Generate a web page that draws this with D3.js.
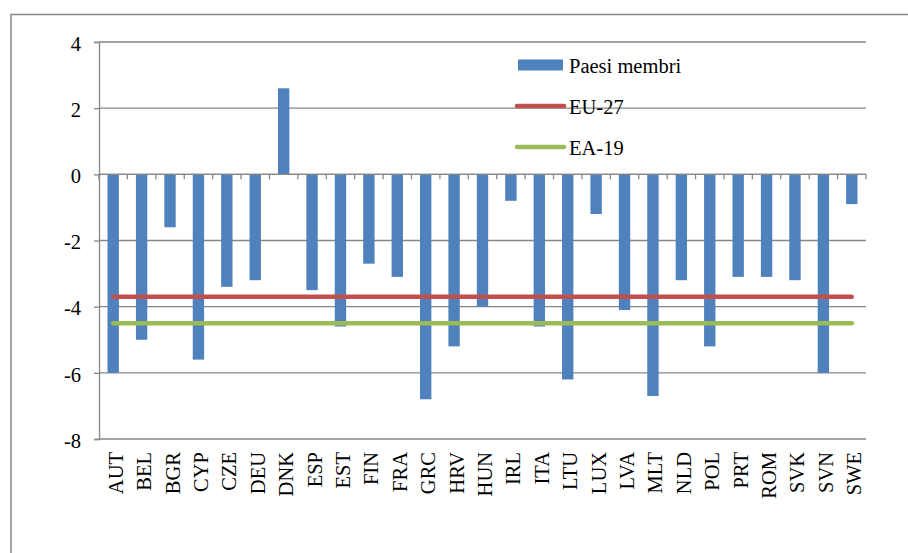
<!DOCTYPE html>
<html>
<head>
<meta charset="utf-8">
<script src="https://cdn.jsdelivr.net/npm/d3@7"></script>
<style>
  html, body { margin: 0; padding: 0; background: #fff; }
  svg { display: block; }
</style>
</head>
<body>
<svg id="chart" width="908" height="553"></svg>
<script>
const countries = ['AUT','BEL','BGR','CYP','CZE','DEU','DNK','ESP','EST','FIN','FRA','GRC','HRV','HUN',
  'IRL','ITA','LTU','LUX','LVA','MLT','NLD','POL','PRT','ROM','SVK','SVN','SWE'];
const memberValues = [-6.0,-5.0,-1.6,-5.6,-3.4,-3.2,2.6,-3.5,-4.6,-2.7,-3.1,-6.8,-5.2,-4.0,
  -0.8,-4.6,-6.2,-1.2,-4.1,-6.7,-3.2,-5.2,-3.1,-3.1,-3.2,-6.0,-0.9];
const eu27 = -3.7;
const ea19 = -4.5;
const yTicks = [4, 2, 0, -2, -4, -6, -8];
const legendItems = [
  { label: 'Paesi membri', type: 'bar',  color: '#4F81BD' },
  { label: 'EU-27',        type: 'line', color: '#C0504D' },
  { label: 'EA-19',        type: 'line', color: '#9BBB59' }
];

const svg = d3.select('#chart');
const grid = '#868686';
const FONT = 'Liberation Serif';
const FS = 20.5;
const L = 99, R = 866, T = 42, B = 439;

// outer frame (only top and left edges visible)
svg.append('path').attr('d', 'M11,553 V14.5 H908')
  .attr('fill', 'none').attr('stroke', grid).attr('stroke-width', 1.5);

const x = d3.scaleBand().domain(countries).range([L, R]).paddingInner(0).paddingOuter(0);
const y = d3.scaleLinear().domain([-8, 4]).range([B, T]);
const barW = x.bandwidth() / 2.5;

// horizontal gridlines
svg.append('g').selectAll('line').data(yTicks).join('line')
  .attr('x1', L).attr('x2', R).attr('y1', d => y(d)).attr('y2', d => y(d))
  .attr('stroke', grid).attr('stroke-width', 1.3);

// y axis
const yAxis = svg.append('g').attr('transform', `translate(${L},0)`)
  .call(d3.axisLeft(y).tickValues(yTicks).tickSize(5).tickPadding(13).tickFormat(d => d))
  .attr('font-family', FONT).attr('font-size', FS);
yAxis.select('.domain').attr('stroke', grid).attr('stroke-width', 1.3);
yAxis.selectAll('.tick line').attr('stroke', grid).attr('stroke-width', 1.3);
yAxis.selectAll('text').style('font-family', FONT).attr('fill', '#000').attr('dy', '0.4em');

// bars
svg.append('g').selectAll('rect').data(countries).join('rect')
  .attr('x', d => x(d) + (x.bandwidth() - barW) / 2)
  .attr('width', barW)
  .attr('y', (d, i) => y(Math.max(0, memberValues[i])))
  .attr('height', (d, i) => Math.abs(y(memberValues[i]) - y(0)))
  .attr('fill', '#4F81BD');

// category axis at zero with downward ticks
const xAxis = svg.append('g').attr('transform', `translate(0,${y(0)})`);
xAxis.append('line').attr('x1', L).attr('x2', R).attr('stroke', grid).attr('stroke-width', 1.3);
const bounds = countries.map(c => x(c)).concat([R]);
xAxis.selectAll('line.tk').data(bounds).join('line').attr('class', 'tk')
  .attr('x1', d => d).attr('x2', d => d).attr('y1', 0).attr('y2', 5)
  .attr('stroke', grid).attr('stroke-width', 1.3);

// category labels (rotated)
svg.append('g').selectAll('text').data(countries).join('text')
  .attr('transform', d => `translate(${x(d) + x.bandwidth() / 2 + 9.5},${B + 13}) rotate(-90)`)
  .attr('text-anchor', 'end').attr('font-size', FS).style('font-family', FONT)
  .attr('fill', '#000').text(d => d);

// reference lines
const x0 = x(countries[0]) + x.bandwidth() / 2;
const x1 = x(countries[countries.length - 1]) + x.bandwidth() / 2;
[[eu27, '#C0504D'], [ea19, '#9BBB59']].forEach(([v, c]) => {
  svg.append('line').attr('x1', x0).attr('x2', x1).attr('y1', y(v)).attr('y2', y(v))
    .attr('stroke', c).attr('stroke-width', 4.5).attr('stroke-linecap', 'round');
});

// legend
const leg = svg.append('g').attr('transform', 'translate(517,65)');
legendItems.forEach((it, i) => {
  const g = leg.append('g').attr('transform', `translate(0,${i * 41})`);
  if (it.type === 'bar') {
    g.append('rect').attr('x', 1).attr('y', -5.5).attr('width', 45).attr('height', 11).attr('fill', it.color);
  } else {
    g.append('line').attr('x1', 0).attr('x2', 47).attr('y1', 0).attr('y2', 0)
      .attr('stroke', it.color).attr('stroke-width', 4.5).attr('stroke-linecap', 'round');
  }
  g.append('text').attr('x', 52).attr('y', 7.5).attr('font-size', FS).style('font-family', FONT)
    .attr('fill', '#000').text(it.label);
});
</script>
</body>
</html>
